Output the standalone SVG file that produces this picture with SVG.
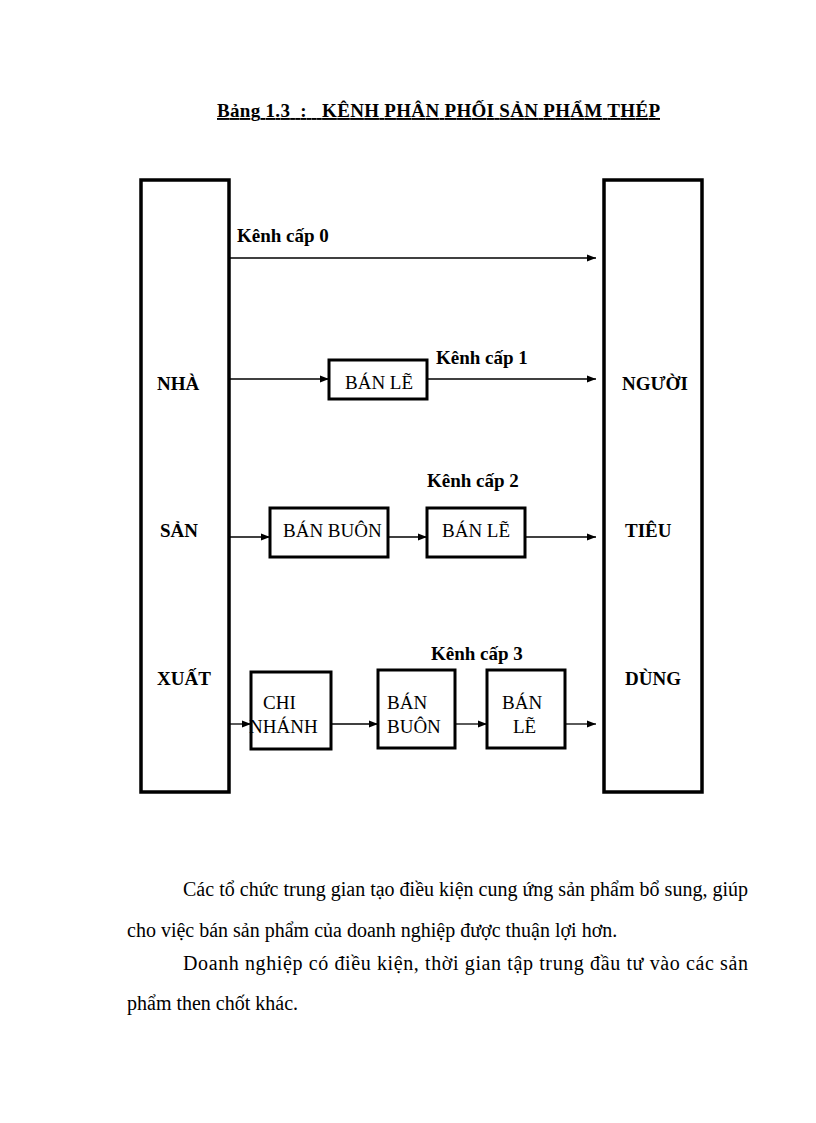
<svg xmlns="http://www.w3.org/2000/svg" width="816" height="1123" viewBox="0 0 816 1123">
<style>
text{font-family:"Liberation Serif","Times New Roman",serif;font-size:19px;fill:#000}
.b{font-weight:bold}
.box{fill:#fff;stroke:#000;stroke-width:3}
.big{fill:#fff;stroke:#000;stroke-width:3.5}
.c line{stroke:#000;stroke-width:1.3;marker-end:url(#ah)}
.p{font-size:20px}
</style>
<defs><marker id="ah" viewBox="0 0 10 10" refX="10" refY="5" markerWidth="9" markerHeight="9" markerUnits="userSpaceOnUse" orient="auto"><path d="M0,1L10,5L0,9z" fill="#000"/></marker></defs>
<text x="217" y="117" class="b" style="text-decoration:underline" xml:space="preserve" textLength="443" lengthAdjust="spacing">Bảng 1.3  :   KÊNH PHÂN PHỐI SẢN PHẨM THÉP</text>
<g id="producer"><rect class="big" x="141" y="180" width="88" height="612"/>
<text x="157" y="390" class="b">NHÀ</text><text x="160" y="537" class="b">SẢN</text><text x="157" y="685" class="b">XUẤT</text></g>
<g id="consumer"><rect class="big" x="604" y="180" width="98" height="612"/>
<text x="622" y="390" class="b">NGƯỜI</text><text x="625" y="537" class="b">TIÊU</text><text x="625" y="685" class="b">DÙNG</text></g>
<g id="c1_ble"><rect class="box" x="329" y="360" width="98" height="39"/><text x="345" y="389">BÁN LẼ</text></g>
<g id="c2_bbuon"><rect class="box" x="270" y="508" width="118" height="49"/><text x="283" y="537">BÁN BUÔN</text></g>
<g id="c2_ble"><rect class="box" x="427" y="508" width="98" height="49"/><text x="442" y="537">BÁN LẼ</text></g>
<g id="c3_chinhanh"><rect class="box" x="251" y="672" width="80" height="77"/><text x="263" y="709">CHI</text><text x="249" y="733">NHÁNH</text></g>
<g id="c3_bbuon"><rect class="box" x="378" y="670" width="77" height="78"/><text x="387" y="709">BÁN</text><text x="387" y="733">BUÔN</text></g>
<g id="c3_ble"><rect class="box" x="487" y="670" width="78" height="78"/><text x="502" y="709">BÁN</text><text x="513" y="733">LẼ</text></g>
<g id="labels">
<text x="237" y="242" class="b">Kênh cấp 0</text>
<text x="436" y="364" class="b">Kênh cấp 1</text>
<text x="427" y="487" class="b">Kênh cấp 2</text>
<text x="431" y="660" class="b">Kênh cấp 3</text></g>
<g class="c" id="connectors">
<line x1="229" y1="258" x2="596" y2="258"/>
<line x1="229" y1="379" x2="329" y2="379"/>
<line x1="427" y1="379" x2="596" y2="379"/>
<line x1="229" y1="537" x2="270" y2="537"/>
<line x1="388" y1="537" x2="427" y2="537"/>
<line x1="525" y1="537" x2="596" y2="537"/>
<line x1="229" y1="724" x2="251" y2="724"/>
<line x1="331" y1="724" x2="378" y2="724"/>
<line x1="455" y1="724" x2="487" y2="724"/>
<line x1="565" y1="724" x2="596" y2="724"/>
</g>
<text x="183" y="896" class="p" textLength="565" lengthAdjust="spacing">Các tổ chức trung gian tạo điều kiện cung ứng sản phẩm bổ sung, giúp</text>
<text x="127" y="937" class="p">cho việc bán sản phẩm của doanh nghiệp được thuận lợi hơn.</text>
<text x="183" y="970" class="p" textLength="565" lengthAdjust="spacing">Doanh nghiệp có điều kiện, thời gian tập trung đầu tư vào các sản</text>
<text x="127" y="1010" class="p">phẩm then chốt khác.</text>
</svg>
